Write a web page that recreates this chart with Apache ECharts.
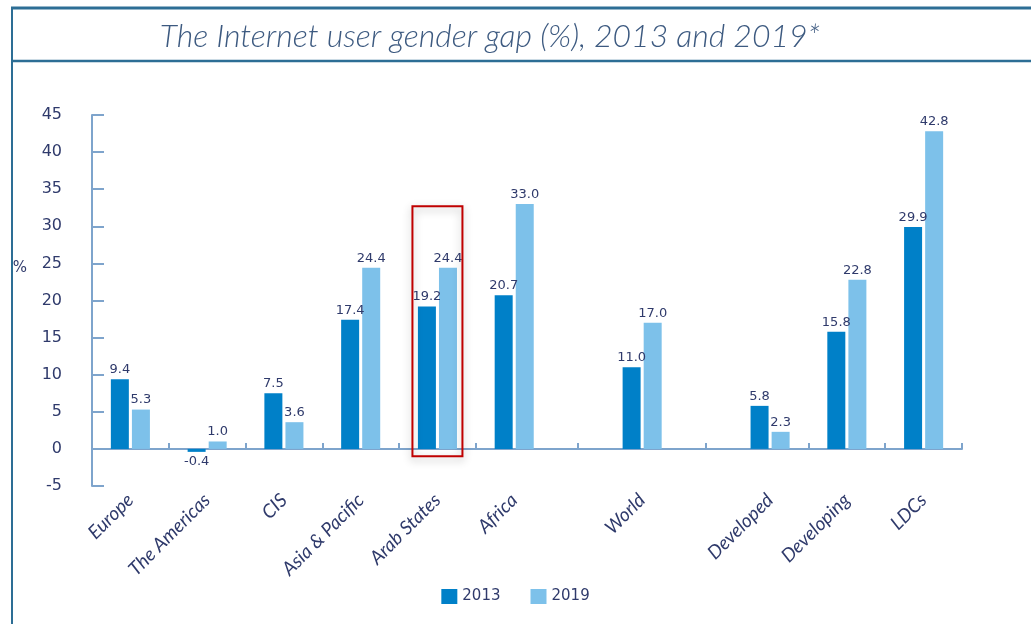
<!DOCTYPE html>
<html>
<head>
<meta charset="utf-8">
<script src="https://cdn.jsdelivr.net/npm/echarts@6/dist/echarts.min.js"></script>
<style>
  html, body { margin: 0; padding: 0; background: #ffffff; }
  #chart { width: 1031px; height: 624px; }
</style>
</head>
<body>
<div id="chart"></div>
<script>
// Internet user gender gap (%) by region / development group
const categories = ['Europe', 'The Americas', 'CIS', 'Asia & Pacific', 'Arab States', 'Africa',
                    'World', 'Developed', 'Developing', 'LDCs'];
const values2013 = [9.4, -0.4, 7.5, 17.4, 19.2, 20.7, 11.0, 5.8, 15.8, 29.9];
const values2019 = [5.3, 1.0, 3.6, 24.4, 24.4, 33.0, 17.0, 2.3, 22.8, 42.8];
const seriesNames = ['2013', '2019'];
const yMin = -5, yMax = 45, yStep = 5;
// a wider gap follows these categories (end of a group)
const groupEnds = ['Africa', 'World'];
// category outlined with the red box and the value span it covers
const highlighted = 'Arab States';
const highlightSpan = [-1, 32.7];

// Build the category slots: narrow spacer slots separate the categories,
// wider ones separate the groups.
const slots = [''];
const slotIndex = {};
categories.forEach((c, i) => {
  slotIndex[c] = slots.length;
  slots.push(c);
  const pad = i === categories.length - 1 ? 1 : (groupEnds.includes(c) ? 4 : 2);
  for (let k = 0; k < pad; k++) slots.push('');
});
// ticks sit halfway between neighbouring categories
const tickSet = new Set();
for (let i = 0; i < categories.length - 1; i++) {
  tickSet.add((slotIndex[categories[i]] + slotIndex[categories[i + 1]] + 1) / 2);
}

function slotData(values) {
  return slots.map(s => {
    if (!s) return '-';
    const v = values[categories.indexOf(s)];
    return { value: v, label: { position: v < 0 ? 'bottom' : 'top' } };
  });
}

const navy = '#2f3a6b';
const axisBlue = '#7ea4cc';
const frameBlue = '#2d6e95';

const chart = echarts.init(document.getElementById('chart'), null, { renderer: 'canvas' });

const barLabel = {
  show: true,
  color: navy,
  fontFamily: 'DejaVu Sans',
  fontSize: 13,
  distance: 3,
  formatter: p => Number(p.value).toFixed(1)
};

chart.setOption({
  animation: false,
  backgroundColor: '#ffffff',
  title: {
    text: 'The Internet user gender gap (%), 2013 and 2019*',
    left: 485,
    textAlign: 'center',
    top: 16,
    textStyle: {
      fontFamily: 'Lato',
      fontStyle: 'italic',
      fontWeight: 300,
      fontSize: 32,
      color: '#3d5a80'
    }
  },
  legend: {
    bottom: 15,
    left: 'center',
    itemWidth: 16,
    itemHeight: 15,
    itemGap: 30,
    icon: 'rect',
    textStyle: { fontFamily: 'DejaVu Sans', fontSize: 15, color: navy }
  },
  grid: { left: 92, right: 69, top: 115, bottom: 138, containLabel: false },
  xAxis: {
    type: 'category',
    data: slots,
    axisLine: { onZero: true, lineStyle: { color: axisBlue, width: 2 } },
    axisTick: {
      show: true,
      inside: true,
      length: 6,
      interval: idx => tickSet.has(idx),
      lineStyle: { color: axisBlue, width: 2 }
    },
    axisLabel: {
      interval: 0,
      rotate: 45,
      margin: 11,
      fontFamily: 'Lato',
      fontStyle: 'italic',
      fontSize: 19,
      color: navy
    },
    splitLine: { show: false }
  },
  yAxis: {
    type: 'value',
    min: yMin,
    max: yMax,
    interval: yStep,
    axisLine: { show: true, lineStyle: { color: axisBlue, width: 2 } },
    axisTick: { show: true, inside: true, length: 12, lineStyle: { color: axisBlue, width: 2 } },
    axisLabel: { margin: 30, fontFamily: 'DejaVu Sans', fontSize: 16, color: navy },
    splitLine: { show: false }
  },
  series: [
    {
      name: seriesNames[0],
      type: 'bar',
      data: slotData(values2013),
      barWidth: 18,
      barGap: '17%',
      itemStyle: { color: '#0080c8' },
      label: barLabel
    },
    {
      name: seriesNames[1],
      type: 'bar',
      data: slotData(values2019),
      barWidth: 18,
      barGap: '17%',
      itemStyle: { color: '#7dc1ea' },
      label: barLabel
    }
  ]
});

// Frame lines, axis unit and the highlight box around one category
const cx = chart.convertToPixel({ xAxisIndex: 0 }, highlighted);
const yTop = chart.convertToPixel({ yAxisIndex: 0 }, highlightSpan[1]);
const yBot = chart.convertToPixel({ yAxisIndex: 0 }, highlightSpan[0]);

chart.setOption({
  graphic: [
    { type: 'line', shape: { x1: 11, y1: 8, x2: 1031, y2: 8 }, style: { stroke: frameBlue, lineWidth: 3 }, z: 10 },
    { type: 'line', shape: { x1: 12, y1: 7, x2: 12, y2: 624 }, style: { stroke: frameBlue, lineWidth: 2 }, z: 10 },
    { type: 'line', shape: { x1: 11, y1: 61, x2: 1031, y2: 61 }, style: { stroke: frameBlue, lineWidth: 2.5 }, z: 10 },
    {
      type: 'text', x: 20, y: 268,
      style: { text: '%', fontFamily: 'DejaVu Sans', fontSize: 15, fill: navy, align: 'center', verticalAlign: 'middle' },
      z: 10
    },
    {
      type: 'rect',
      shape: { x: cx - 25, y: yTop, width: 50, height: yBot - yTop },
      style: {
        fill: 'none', stroke: '#c00000', lineWidth: 2,
        shadowBlur: 8, shadowColor: 'rgba(0,0,0,0.3)', shadowOffsetY: 3
      },
      z: 10
    }
  ]
});
</script>
</body>
</html>
